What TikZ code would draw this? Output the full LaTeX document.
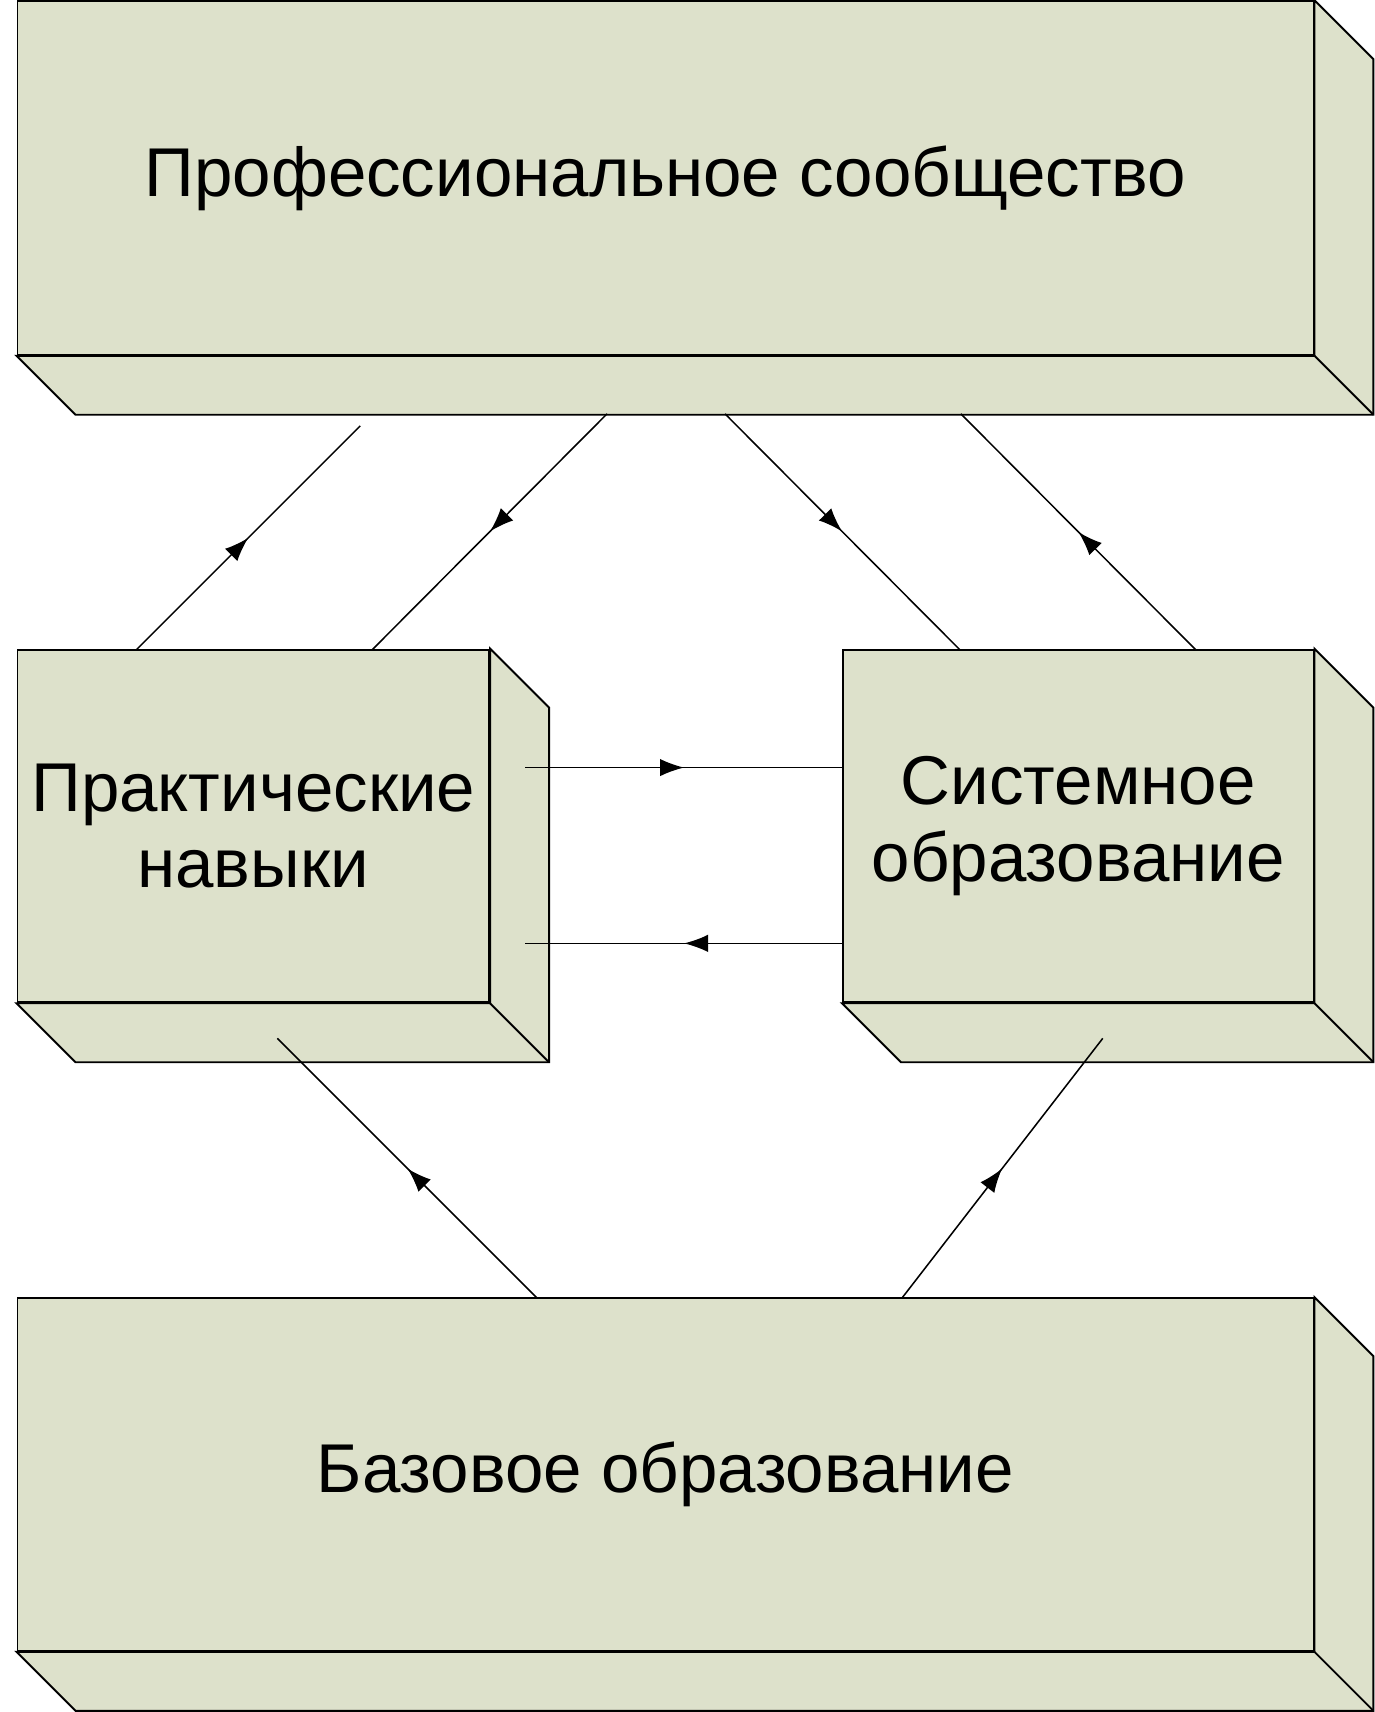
\documentclass[tikz,border=0pt]{standalone}
\usepackage{fontspec}
\setmainfont{Liberation Sans}
\usetikzlibrary{calc, positioning, arrows.meta, decorations.markings}
\definecolor{boxfill}{HTML}{DDE1CB}
\tikzset{>=Latex}
\tikzstyle{blk}=[draw, fill=boxfill, line width=0.5pt, inner sep=0pt, align=center, font=\fontsize{18}{20}\selectfont]
\tikzstyle{face}=[draw, fill=boxfill, line width=0.5pt]
\tikzstyle{flow}=[line width=0.4pt, postaction={decorate}, decoration={markings, mark=at position 0.5 with {\arrow{Latex[length=0.22cm, width=0.16cm]}}}]
\newcommand{\depth}[1]{%
\draw[face] (#1.south west) -- ++(0.54,-0.54) -| ($(#1.north east)+(0.54,-0.54)$) -- (#1.north east) -- (#1.south east) -- cycle;
\draw[face] (#1.south east) -- ++(0.54,-0.54);}

\begin{document}
\begin{tikzpicture}
\useasboundingbox (0,0) rectangle (12.59,-15.68);
\node[blk, minimum width=11.87cm, minimum height=3.24cm] (prof) at (6.095,-1.63) {Профессиональное сообщество};
\node[blk, minimum width=4.32cm, minimum height=3.23cm] (prak) at (2.32,-7.565) {Практические\\навыки};
\node[blk, minimum width=4.31cm, minimum height=3.23cm] (sist) at (9.875,-7.565) {Системное\\образование};
\node[blk, minimum width=11.87cm, minimum height=3.23cm] (baz) at (6.095,-13.505) {Базовое образование};
\depth{prof}
\depth{prak}
\depth{sist}
\depth{baz}
%
\coordinate (p1) at (1.25,-5.95);  \coordinate (q1) at (3.30,-3.90);
\coordinate (q2) at (5.56,-3.79);  \coordinate (p2) at (3.41,-5.95);
\coordinate (q3) at (6.64,-3.79);  \coordinate (s3) at (8.79,-5.95);
\coordinate (s4) at (10.95,-5.95); \coordinate (q4) at (8.80,-3.79);
\coordinate (p5) at (4.81,-7.03);  \coordinate (s5) at (7.72,-7.03);
\coordinate (s6) at (7.72,-8.64);  \coordinate (p6) at (4.81,-8.64);
\coordinate (b7) at (4.92,-11.89); \coordinate (p7) at (2.54,-9.51);
\coordinate (b8) at (8.26,-11.89); \coordinate (s8) at (10.10,-9.51);
%
\draw[flow] (p1) -- (q1);
\draw[flow] (q2) -- (p2);
\draw[flow] (q3) -- (s3);
\draw[flow] (s4) -- (q4);
\draw[flow] (p5) -- (s5);
\draw[flow] (s6) -- (p6);
\draw[flow] (b7) -- (p7);
\draw[flow] (b8) -- (s8);
\end{tikzpicture}
\end{document}
